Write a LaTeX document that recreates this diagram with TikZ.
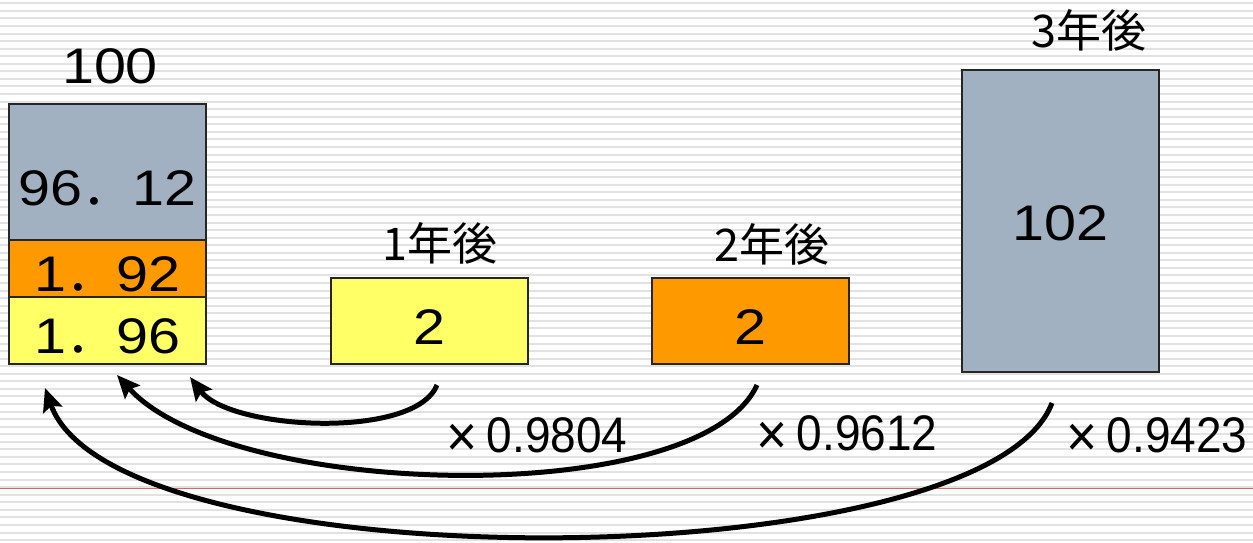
\documentclass[tikz,border=0pt]{standalone}
\usepackage{fontspec}
\setmainfont{Liberation Sans}
\newfontfamily\jpfont{Noto Sans CJK JP}
\newfontfamily\chiffrefont[FakeStretch=1.15]{Liberation Sans}
\newfontfamily\facteurfont[FakeStretch=0.92]{Liberation Sans}
\usepackage{xcolor}
\usepackage{tikz}
\usetikzlibrary{arrows.meta,positioning,calc}
\definecolor{barregris}{HTML}{A2B1C1}
\definecolor{barreorange}{HTML}{FF9900}
\definecolor{barrejaune}{HTML}{FFFF66}
\definecolor{rayure}{HTML}{E2E2E2}
\definecolor{marge}{HTML}{D26A6A}
\newcommand{\pt}{{\jpfont ．}}
\newcommand{\fois}{{\fontsize{58}{60}\selectfont\raisebox{-4pt}{×}}\hspace{9pt}}

\begin{document}
\begin{tikzpicture}[x=1pt,y=-1pt,
    boite/.style   = {draw=black!85,line width=1.4pt,minimum width=197pt,inner sep=0pt,
                      text height=46pt,text depth=0pt,font=\chiffrefont\fontsize{50}{60}\selectfont},
    entete/.style  = {font=\chiffrefont\fontsize{50}{60}\selectfont,anchor=base},
    annee/.style   = {font=\jpfont\fontsize{45}{54}\selectfont,anchor=base},
    facteur/.style = {font=\facteurfont\fontsize{50}{60}\selectfont,anchor=base},
    retour/.style  = {line width=5pt,-{Stealth[length=23pt,width=20pt,inset=4pt]}},
  ]
  \useasboundingbox (0,0) rectangle (1253,542);

  % Fond rayé et ligne de marge
  \foreach \k in {0,...,71}
    \draw[rayure,line width=2pt] (0,{3.3+7.56*\k}) -- (1253,{3.3+7.56*\k});
  \draw[marge,line width=1pt] (0,488.5) -- (1253,488.5);

  % Barre empilée : valeur actuelle
  \node[boite,fill=barregris,minimum height=136pt,text height=67pt] (gris) at (107.5,172) {96\pt12};
  \node[boite,fill=barreorange,minimum height=57pt] (orange) at (107.5,268.5) {1\pt92};
  \node[boite,fill=barrejaune,minimum height=67pt]  (jaune)  at (107.5,330.5) {1\pt96};
  \node[entete] (total) at (110,83) {100};

  % Flux futurs
  \node[boite,fill=barrejaune,minimum height=86pt]  (flux1) at (429.5,321) {2};
  \node[boite,fill=barreorange,minimum height=86pt] (flux2) at (750.5,321) {2};
  \node[boite,fill=barregris,minimum height=302pt,text height=39pt] (flux3) at (1060.5,221) {102};
  \node[annee] (an1) at (440,260)  {1年後};
  \node[annee] (an2) at (772,261)  {2年後};
  \node[annee] (an3) at (1089,47)  {3年後};

  % Facteurs d'actualisation
  \node[facteur] (f1) at (537,452)  {\fois0.9804};
  \node[facteur] (f2) at (847,450)  {\fois0.9612};
  \node[facteur] (f3) at (1157,452) {\fois0.9423};

  % Retours vers la valeur actuelle
  \coordinate (d1) at (437,385);  \coordinate (a1) at (190,377);
  \coordinate (d2) at (757,385);  \coordinate (a2) at (117,375);
  \coordinate (d3) at (1052,403); \coordinate (a3) at (45,388);
  \draw[retour] (d1) .. controls (415,440) and (230,430) .. (a1);
  \draw[retour] (d2) .. controls (700,510) and (230,500) .. (a2);
  \draw[retour] (d3) .. controls (985,580) and (115,585) .. (a3);

\end{tikzpicture}
\end{document}
